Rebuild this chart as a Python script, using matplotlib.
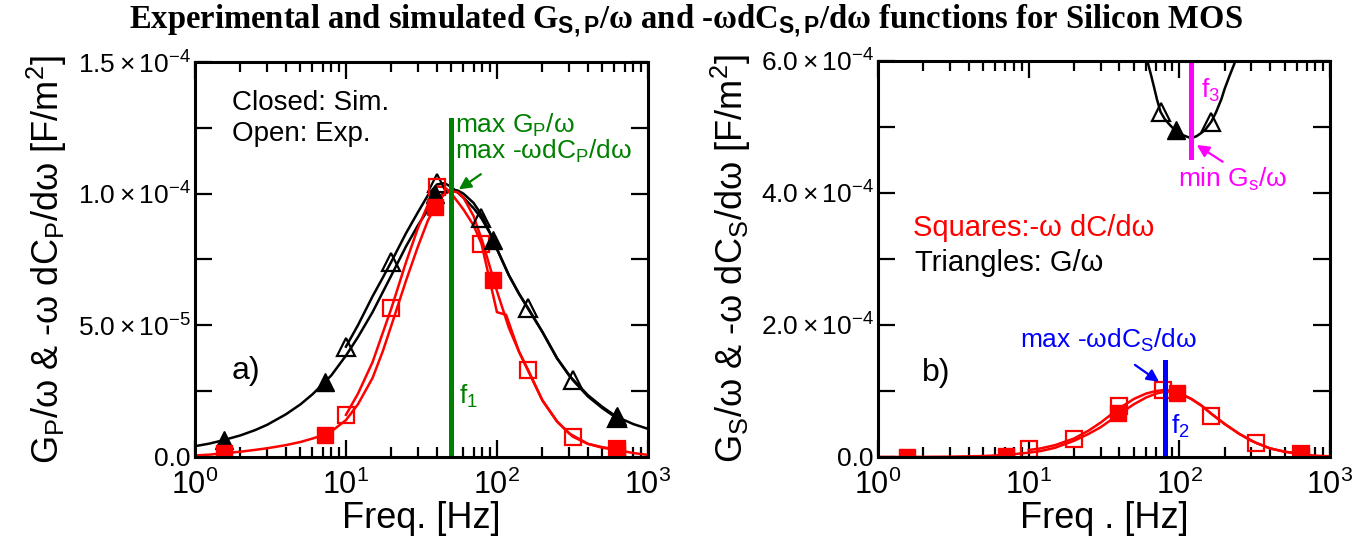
import numpy as np
import matplotlib
matplotlib.use("Agg")
import matplotlib.pyplot as plt
from matplotlib.ticker import FixedLocator, NullFormatter, LogLocator

plt.rcParams['font.family'] = ['Liberation Sans', 'DejaVu Sans']
plt.rcParams['mathtext.fontset'] = 'custom'
plt.rcParams['mathtext.rm'] = 'Liberation Sans'
plt.rcParams['mathtext.it'] = 'Liberation Sans:italic'
plt.rcParams['mathtext.bf'] = 'Liberation Sans:bold'

# ---------------- panel a (parallel), values in 1e-4 F/m^2 ----------------
# simulated curves
fa_line = [1, 1.25, 1.5, 2, 2.5, 3, 4, 5, 6, 7, 8, 10, 12, 15, 17.5, 20, 25, 30, 35, 40, 45, 50,
           55, 60, 70, 80, 90, 100, 120, 140, 160, 200, 250, 300, 400, 500, 620, 800, 1000]
ga_sim_line = [0.041, 0.051, 0.062, 0.082, 0.102, 0.122, 0.162, 0.2, 0.238, 0.276, 0.31, 0.385,
               0.455, 0.55, 0.625, 0.69, 0.8, 0.88, 0.94, 0.98, 1.005, 1.015, 1.012, 1.0, 0.965,
               0.915, 0.85, 0.79, 0.69, 0.62, 0.565, 0.475, 0.375, 0.31, 0.235, 0.19, 0.153,
               0.125, 0.107]
ca_sim_line = [0.006, 0.009, 0.013, 0.02, 0.027, 0.033, 0.045, 0.057, 0.07, 0.082, 0.097, 0.14,
               0.2, 0.3, 0.4, 0.5, 0.67, 0.8, 0.9, 0.96, 1.0, 1.01, 1.005, 0.985, 0.915, 0.82,
               0.72, 0.63, 0.49, 0.4, 0.33, 0.215, 0.135, 0.09, 0.05, 0.035, 0.027, 0.015, 0.008]
# experimental curves
fa_gexp_line = [10, 12, 15, 17.5, 20, 25, 30, 35, 40, 45, 50, 60, 70, 79, 90, 100, 120, 140, 161,
                200, 250, 318, 400, 500, 620]
ga_exp_line = [0.419, 0.5, 0.61, 0.68, 0.742, 0.85, 0.93, 0.995, 1.035, 1.04, 1.025, 0.985, 0.945,
               0.906, 0.85, 0.79, 0.69, 0.62, 0.565, 0.475, 0.375, 0.292, 0.23, 0.185, 0.148]
fa_cexp_line = [10, 12, 15, 17.5, 20, 25, 30, 35, 40, 45, 50, 60, 70, 79, 100, 115, 140, 161, 200,
                250, 318, 400, 500, 620]
ca_exp_line = [0.16, 0.24, 0.36, 0.47, 0.565, 0.74, 0.87, 0.96, 1.027, 1.025, 1.0, 0.94, 0.88, 0.81,
               0.55, 0.54, 0.4, 0.33, 0.215, 0.135, 0.077, 0.05, 0.037, 0.03]
# markers
fa_sim_pts = [1.55, 7.26, 38.8, 94.6, 620]
ga_sim_pts = [0.065, 0.286, 1.0, 0.824, 0.155]
ca_sim_pts = [0.014, 0.084, 0.95, 0.672, 0.028]
fa_exp_pts = [10, 20, 40, 79, 161, 318, 620]
ga_exp_pts = [0.419, 0.742, 1.04, 0.906, 0.565, 0.292, 0.148]
ca_exp_pts = [0.16, 0.565, 1.027, 0.81, 0.33, 0.077, 0.03]
f1 = 49.3
f1_top = 1.28

# ---------------- panel b (series) ----------------
fb_line = [1, 2, 3, 4, 5, 7, 10, 12, 15, 20, 25, 30, 40, 50, 60, 70, 80, 90, 100, 120, 140, 160,
           200, 250, 300, 400, 500, 650, 800, 1000]
cb_sim_line = [0.0, 0.002, 0.005, 0.01, 0.015, 0.03, 0.065, 0.09, 0.14, 0.245, 0.35, 0.45, 0.65,
               0.8, 0.9, 0.96, 0.99, 0.99, 0.96, 0.88, 0.78, 0.67, 0.5, 0.35, 0.245, 0.13, 0.08,
               0.04, 0.02, 0.01]
fb_cexp_line = [10, 12, 15, 20, 25, 30, 40, 50, 60, 70, 80, 90, 100, 120, 140, 164, 200, 250, 325,
                400, 500, 646]
cb_exp_line = [0.106, 0.13, 0.18, 0.28, 0.4, 0.52, 0.74, 0.88, 0.96, 1.0, 1.015, 1.0, 0.97, 0.88,
               0.78, 0.65, 0.5, 0.35, 0.21, 0.13, 0.08, 0.05]
fb_g_line = [58, 60, 62, 65, 68, 71, 75, 80, 85, 90, 95, 100, 110, 120, 130, 140, 150, 163, 175,
             190, 200, 215, 232, 240]
gb_line = [6.2, 6.08, 5.96, 5.78, 5.6, 5.42, 5.23, 5.12, 5.05, 4.99, 4.94, 4.9, 4.86, 4.83, 4.86,
           4.91, 4.97, 5.08, 5.22, 5.42, 5.58, 5.77, 5.96, 6.08]
fb_sim_pts = [1.55, 7.1, 39.4, 96, 646]
cb_sim_pts = [0.0, 0.02, 0.66, 0.965, 0.03]
fb_exp_pts = [10, 20, 40, 78, 163, 325, 646]
cb_exp_pts = [0.12, 0.28, 0.78, 1.015, 0.62, 0.21, 0.05]
fb_gsim_pts = [95.6]
gb_sim_pts = [4.95]
fb_gexp_pts = [75, 163]
gb_exp_pts = [5.23, 5.08]
f2, f2_top = 80, 1.44
f3, f3_bot = 120, 4.55

S = 1e-4
fig = plt.figure(figsize=(13.71, 5.43), dpi=100)
ax1 = fig.add_axes([0.1422, 0.1584, 0.3304, 0.7274])
ax2 = fig.add_axes([0.6404, 0.1584, 0.3297, 0.7293])

lw = 1.8
ms_t, ms_s = 13, 11


def sc(v):
    return np.array(v) * S


def style(ax, ymax, ymajor, ylabels, yminor):
    ax.set_xscale('log')
    ax.set_xlim(1, 1000)
    ax.set_ylim(0, ymax)
    ax.yaxis.set_major_locator(FixedLocator(ymajor))
    ax.set_yticklabels(ylabels)
    ax.yaxis.set_minor_locator(FixedLocator(yminor))
    ax.xaxis.set_major_locator(LogLocator(base=10, numticks=10))
    ax.xaxis.set_minor_locator(LogLocator(base=10, subs=np.arange(2, 10), numticks=10))
    ax.xaxis.set_minor_formatter(NullFormatter())
    ax.tick_params(which='both', direction='in', top=True, right=True, width=1.6)
    ax.tick_params(which='major', length=12)
    ax.tick_params(axis='y', which='minor', length=12)
    ax.tick_params(axis='x', which='minor', length=7)
    ax.tick_params(axis='x', labelsize=22, pad=9)
    ax.tick_params(axis='y', labelsize=19, pad=3)
    for s in ax.spines.values():
        s.set_linewidth(2.2)


# panel a
ax1.plot(fa_line, sc(ga_sim_line), color='black', lw=lw)
ax1.plot(fa_gexp_line, sc(ga_exp_line), color='black', lw=lw)
ax1.plot(fa_line, sc(ca_sim_line), color='red', lw=lw)
ax1.plot(fa_cexp_line, sc(ca_exp_line), color='red', lw=lw)
ax1.plot(fa_exp_pts, sc(ga_exp_pts), ls='none', marker='^', ms=ms_t, mfc='none', mec='black', mew=1.6)
ax1.plot(fa_exp_pts, sc(ca_exp_pts), ls='none', marker='s', ms=ms_s, mfc='none', mec='red', mew=1.6)
ax1.plot(fa_sim_pts, sc(ga_sim_pts), ls='none', marker='^', ms=ms_t, color='black')
ax1.plot(fa_sim_pts, sc(ca_sim_pts), ls='none', marker='s', ms=ms_s, color='red')
ax1.plot([f1, f1], [0, f1_top * S], color='#008000', lw=3.6)
style(ax1, 1.5 * S, [0, 0.5 * S, 1.0 * S, 1.5 * S],
      ['0.0', r'$5.0\times10^{-5}$', r'$1.0\times10^{-4}$', r'$1.5\times10^{-4}$'],
      [0.25 * S, 0.75 * S, 1.25 * S])
ax1.set_xlabel('Freq. [Hz]', fontsize=26, labelpad=0)
ax1.set_ylabel(r'G$_\mathrm{P}$/ω & -ω dC$_\mathrm{P}$/dω [F/m$^2$]', fontsize=26, labelpad=6)
ax1.text(1.76, 1.345 * S, 'Closed: Sim.', fontsize=20, va='center')
ax1.text(1.76, 1.225 * S, 'Open: Exp.', fontsize=20, va='center')
ax1.text(53, 1.26 * S, r'max G$_\mathrm{P}$/ω', fontsize=19, color='#008000', va='center')
ax1.text(53, 1.16 * S, r'max -ωdC$_\mathrm{P}$/dω', fontsize=19, color='#008000', va='center')
ax1.annotate('', xy=(54, 1.01 * S), xytext=(81, 1.08 * S),
             arrowprops=dict(arrowstyle='-|>', color='#008000', lw=1.6, mutation_scale=18))
ax1.text(56, 0.23 * S, r'f$_1$', fontsize=19, color='#008000', va='center')
ax1.text(1.76, 0.327 * S, 'a)', fontsize=23, va='center')

# panel b
ax2.plot(fb_line, sc(cb_sim_line), color='red', lw=lw)
ax2.plot(fb_cexp_line, sc(cb_exp_line), color='red', lw=lw)
ax2.plot(fb_g_line, sc(gb_line), color='black', lw=lw)
ax2.plot(fb_exp_pts, sc(cb_exp_pts), ls='none', marker='s', ms=ms_s, mfc='none', mec='red', mew=1.6)
ax2.plot(fb_gexp_pts, sc(gb_exp_pts), ls='none', marker='^', ms=ms_t, mfc='none', mec='black', mew=1.6)
ax2.plot(fb_sim_pts, sc(cb_sim_pts), ls='none', marker='s', ms=ms_s, color='red')
ax2.plot(fb_gsim_pts, sc(gb_sim_pts), ls='none', marker='^', ms=ms_t, color='black')
ax2.plot([f2, f2], [0, f2_top * S], color='blue', lw=3.6)
ax2.plot([f3, f3], [f3_bot * S, 6 * S], color='magenta', lw=3.6)
style(ax2, 6 * S, [0, 2 * S, 4 * S, 6 * S],
      ['0.0', r'$2.0\times10^{-4}$', r'$4.0\times10^{-4}$', r'$6.0\times10^{-4}$'],
      [1 * S, 3 * S, 5 * S])
ax2.set_xlabel('Freq . [Hz]', fontsize=26, labelpad=0)
ax2.set_ylabel(r'G$_\mathrm{S}$/ω & -ω dC$_\mathrm{S}$/dω [F/m$^2$]', fontsize=26, labelpad=6)
ax2.text(1.71, 3.47 * S, 'Squares:-ω dC/dω', fontsize=21, color='red', va='center')
ax2.text(1.76, 2.94 * S, 'Triangles: G/ω', fontsize=21, color='black', va='center')
ax2.text(8.75, 1.77 * S, r'max -ωdC$_\mathrm{S}$/dω', fontsize=19, color='blue', va='center')
ax2.annotate('', xy=(76, 1.115 * S), xytext=(49, 1.42 * S),
             arrowprops=dict(arrowstyle='-|>', color='blue', lw=1.6, mutation_scale=18))
ax2.text(88, 0.46 * S, r'f$_2$', fontsize=19, color='blue', va='center')
ax2.text(140, 5.56 * S, r'f$_3$', fontsize=19, color='magenta', va='center')
ax2.text(98, 4.2 * S, r'min G$_\mathrm{s}$/ω', fontsize=19, color='magenta', va='center')
ax2.annotate('', xy=(126, 4.75 * S), xytext=(201, 4.45 * S),
             arrowprops=dict(arrowstyle='-|>', color='magenta', lw=1.6, mutation_scale=18))
ax2.text(1.96, 1.27 * S, 'b)', fontsize=23, va='center')

fig.text(0.5, 0.962,
         r'Experimental and simulated G$_{\mathbf{S,P}}$/ω and -ωdC$_{\mathbf{S,P}}$/dω functions for Silicon MOS',
         ha='center', va='center', fontsize=23.5, fontweight='bold',
         family=['Liberation Serif', 'DejaVu Serif'])

fig.savefig('out.png', dpi=100)
